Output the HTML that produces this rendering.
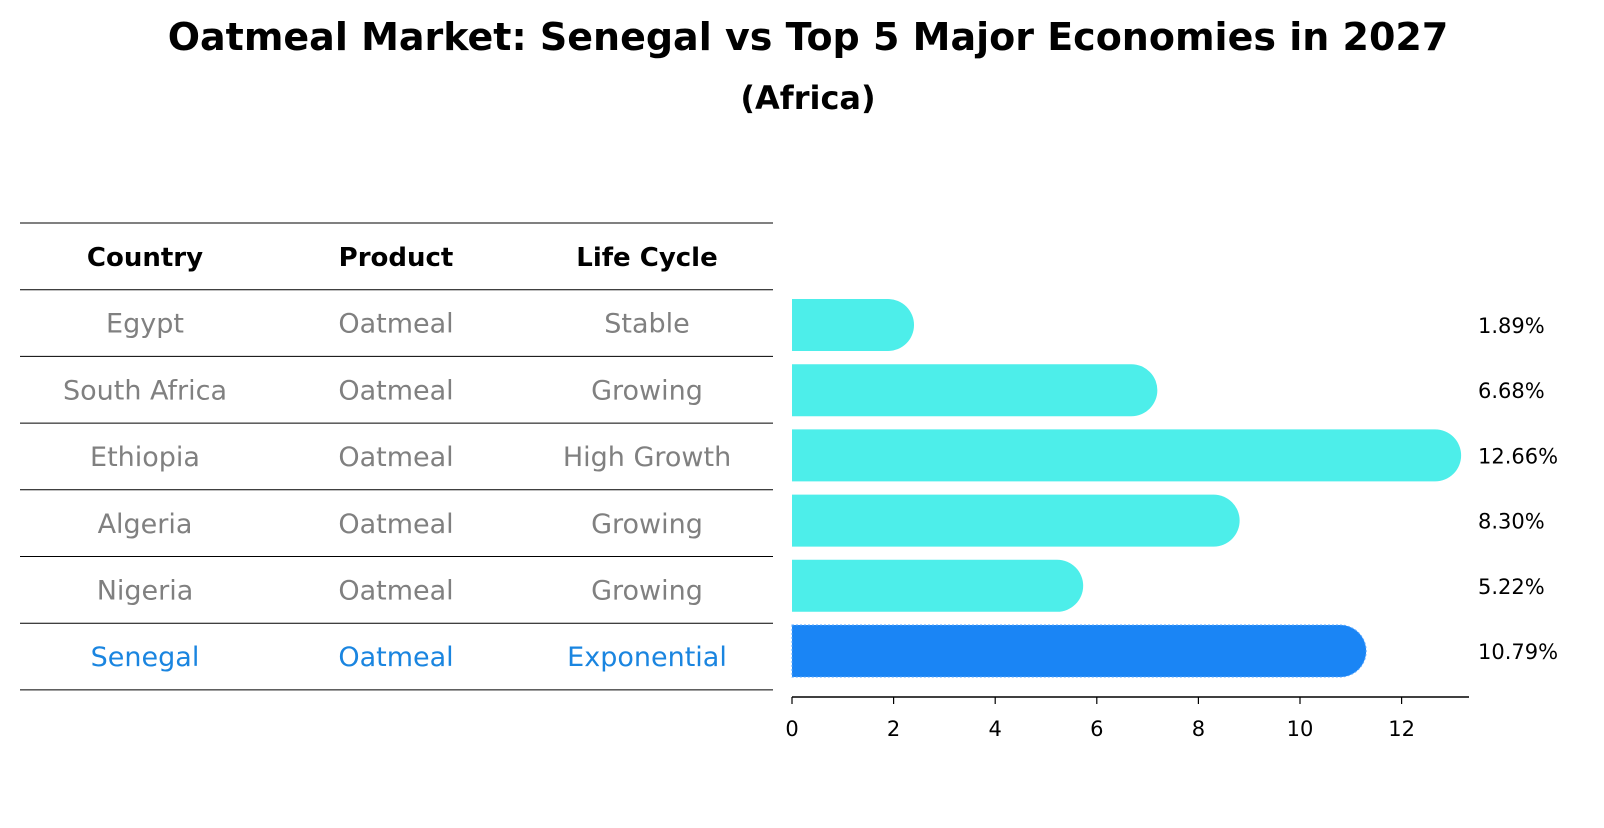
<!DOCTYPE html>
<html><head><meta charset="utf-8"><style>
body{margin:0;background:#fff;font-family:"Liberation Sans","DejaVu Sans",sans-serif;}
</style></head><body>
<svg width="1604" height="823" xmlns="http://www.w3.org/2000/svg" font-family="DejaVu Sans, Liberation Sans, sans-serif">
<text x="808" y="50" text-anchor="middle" font-size="38" font-weight="bold">Oatmeal Market: Senegal vs Top 5 Major Economies in 2027</text>
<text x="808" y="109" text-anchor="middle" font-size="32" font-weight="bold">(Africa)</text>
<g id="table"></g>
<g id="bars"></g>
</svg>
<script>
const countries=["Egypt","South Africa","Ethiopia","Algeria","Nigeria","Senegal"];
const products=["Oatmeal","Oatmeal","Oatmeal","Oatmeal","Oatmeal","Oatmeal"];
const lifeCycles=["Stable","Growing","High Growth","Growing","Growing","Exponential"];
const values=[1.89,6.68,12.66,8.30,5.22,10.79];
const xTicks=[0,2,4,6,8,10,12];
const NS="http://www.w3.org/2000/svg";
function mk(tag,attrs,parent){const e=document.createElementNS(NS,tag);for(const k in attrs)e.setAttribute(k,attrs[k]);parent.appendChild(e);return e;}
const tbl=document.getElementById('table'),bars=document.getElementById('bars');
const x0=792,unit=50.8;
const xs=v=>x0+v*unit;
const rowY=i=>325+i*65.2;
const lineY=i=>223+i*66.7;
const colX=[145,396,647];
for(let i=0;i<8;i++){const l=mk('line',{x1:20,x2:773,y1:lineY(i),y2:lineY(i),stroke:'#000','stroke-width':1},tbl);

}
["Country","Product","Life Cycle"].forEach((h,j)=>{const t=mk('text',{x:colX[j],y:lineY(0)+43,'text-anchor':'middle','font-size':26,'font-weight':'bold'},tbl);t.textContent=h;

});
countries.forEach((c,i)=>{const col=i===countries.length-1?'#1a85e0':'#808080';
[c,products[i],lifeCycles[i]].forEach((s,j)=>{const t=mk('text',{x:colX[j],y:lineY(i+1)+43,'text-anchor':'middle','font-size':27,fill:col},tbl);t.textContent=s;

});
const isS=i===countries.length-1;const fill=isS?'#1a85f5':'#4deeea';
const cy=rowY(i),h=52,xe=xs(values[i]);
const p=mk('path',{d:`M${x0},${cy-h/2} H${xe} A26,26 0 0 1 ${xe},${cy+h/2} H${x0} Z`,fill:fill},bars);
if(isS){p.setAttribute('stroke','#5aa8ff');p.setAttribute('stroke-dasharray','2,2');p.setAttribute('stroke-width','1');}


const lt=mk('text',{x:1478,y:cy+8,'font-size':21},bars);lt.textContent=values[i].toFixed(2)+'%';

});
const ax=mk('line',{x1:x0,x2:1469,y1:697,y2:697,stroke:'#000','stroke-width':1.5},bars);


xTicks.forEach(v=>{const tk=mk('line',{x1:xs(v),x2:xs(v),y1:697,y2:704,stroke:'#000','stroke-width':1.2},bars);


const t=mk('text',{x:xs(v),y:736,'text-anchor':'middle','font-size':21},bars);t.textContent=v;

});
</script>
</body></html>
